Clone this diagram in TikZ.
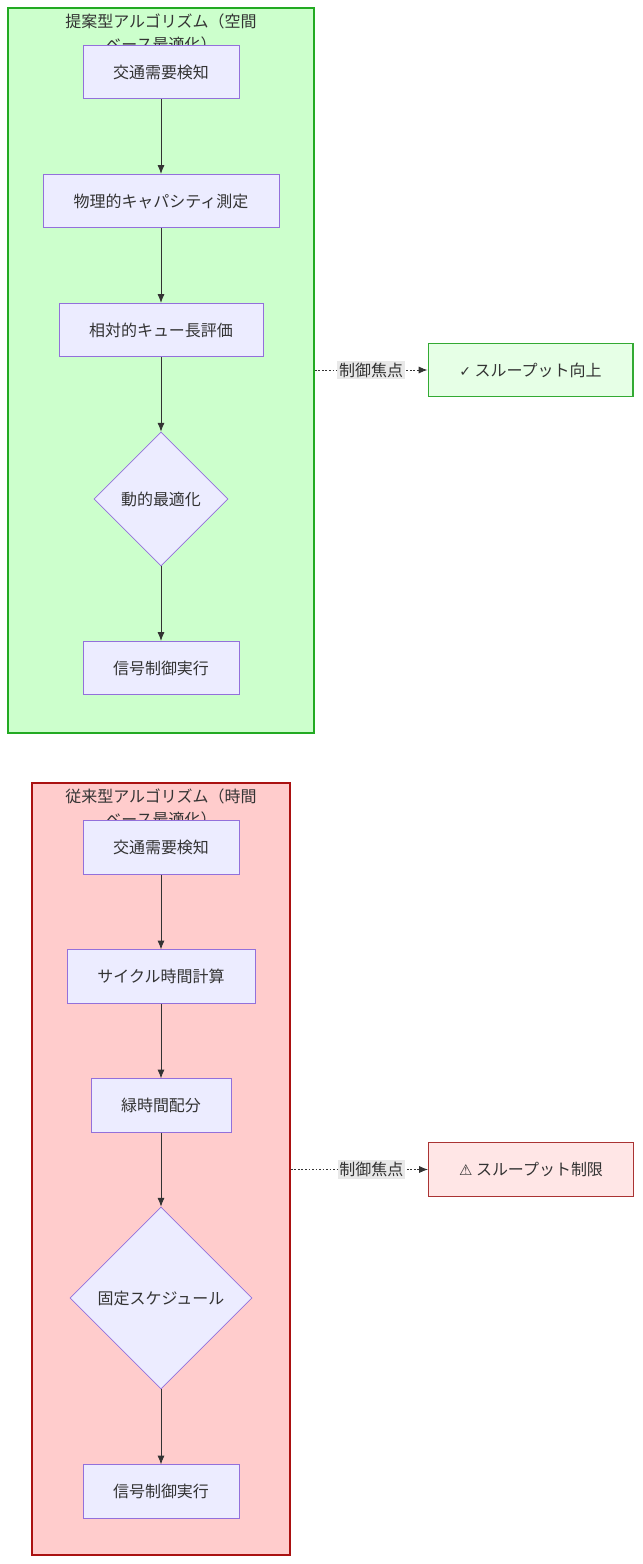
\documentclass[tikz,border=0pt]{standalone}
\usepackage{fontspec}
\setmainfont{Noto Sans CJK JP}
\newfontfamily\symfont{DejaVu Sans}
\usetikzlibrary{shapes.geometric, arrows.meta, positioning}

\definecolor{procfill}{HTML}{ECECFF}
\definecolor{procline}{HTML}{9370DB}
\definecolor{edgeline}{HTML}{333333}
\definecolor{newfill}{HTML}{CCFFCC}
\definecolor{newline}{HTML}{22AA22}
\definecolor{oldfill}{HTML}{FFCCCC}
\definecolor{oldline}{HTML}{AA1111}
\definecolor{goodfill}{HTML}{E6FFE6}
\definecolor{goodline}{HTML}{33AA33}
\definecolor{badfill}{HTML}{FFE6E6}
\definecolor{badline}{HTML}{AA3333}
\definecolor{labelfill}{HTML}{E8E8E8}

\begin{document}
\begin{tikzpicture}[
      x=0.02cm, y=-0.02cm,
      font=\fontsize{9.1}{13}\selectfont,
      cluster/.style={rectangle, draw, line width=1.1pt, inner sep=0pt},
      proc/.style={rectangle, draw=procline, fill=procfill, line width=0.4pt, minimum height=1.07cm, text=edgeline},
      decide/.style={diamond, draw=procline, fill=procfill, line width=0.4pt, inner sep=0pt, aspect=1, text=edgeline},
      result/.style={rectangle, draw, line width=0.6pt, minimum width=4.1cm, minimum height=1.07cm, text=edgeline},
      flow/.style={-{Latex[length=5pt,width=4pt]}, draw=edgeline, line width=0.5pt},
      focus/.style={-{Latex[length=5pt,width=4pt]}, draw=edgeline, dash pattern=on 1pt off 1pt, line width=0.5pt},
      tag/.style={fill=labelfill, inner sep=1pt, text=edgeline}
    ]
    \useasboundingbox (0,0) rectangle (642,1564);

    % proposed algorithm (space based)
    \node[cluster, draw=newline, fill=newfill, minimum width=6.12cm, minimum height=14.5cm] (newgrp) at (161,370.5) {};
    \node[align=center, anchor=north, text=edgeline] (newtitle) at (161,8) {提案型アルゴリズム（空間\\ベース最適化）};

    \node[proc, minimum width=3.12cm] (ndetect) at (161,72) {交通需要検知};
    \node[proc, minimum width=4.72cm] (nmeasure) at (161,201) {物理的キャパシティ測定};
    \node[proc, minimum width=4.08cm] (nqueue) at (161,330) {相対的キュー長評価};
    \node[decide, minimum width=2.68cm, minimum height=2.68cm] (nopt) at (161,499) {動的最適化};
    \node[proc, minimum width=3.12cm] (nexec) at (161,668) {信号制御実行};

    \draw[flow] (ndetect) -- (nmeasure);
    \draw[flow] (nmeasure) -- (nqueue);
    \draw[flow] (nqueue) -- (nopt);
    \draw[flow] (nopt) -- (nexec);

    \node[result, draw=goodline, fill=goodfill] (good) at (530.5,370) {{\symfont\fontsize{8}{8}\selectfont ✓} スループット向上};
    \draw[focus] (newgrp.east |- good) -- node[tag, pos=0.5] {制御焦点} (good);

    % conventional algorithm (time based)
    \node[cluster, draw=oldline, fill=oldfill, minimum width=5.16cm, minimum height=15.44cm] (oldgrp) at (161,1169) {};
    \node[align=center, anchor=north, text=edgeline] (oldtitle) at (161,783) {従来型アルゴリズム（時間\\ベース最適化）};

    \node[proc, minimum width=3.12cm] (odetect) at (161,847.5) {交通需要検知};
    \node[proc, minimum width=3.76cm] (ocycle) at (161,976.5) {サイクル時間計算};
    \node[proc, minimum width=2.8cm] (ogreen) at (161,1105.5) {緑時間配分};
    \node[decide, minimum width=3.64cm, minimum height=3.64cm] (ofixed) at (161,1298) {固定スケジュール};
    \node[proc, minimum width=3.12cm] (oexec) at (161,1491.5) {信号制御実行};

    \draw[flow] (odetect) -- (ocycle);
    \draw[flow] (ocycle) -- (ogreen);
    \draw[flow] (ogreen) -- (ofixed);
    \draw[flow] (ofixed) -- (oexec);

    \node[result, draw=badline, fill=badfill] (bad) at (531,1169.5) {{\symfont\fontsize{8.5}{8}\selectfont ⚠} スループット制限};
    \draw[focus] (oldgrp.east |- bad) -- node[tag, pos=0.587] {制御焦点} (bad);
  \end{tikzpicture}
\end{document}
